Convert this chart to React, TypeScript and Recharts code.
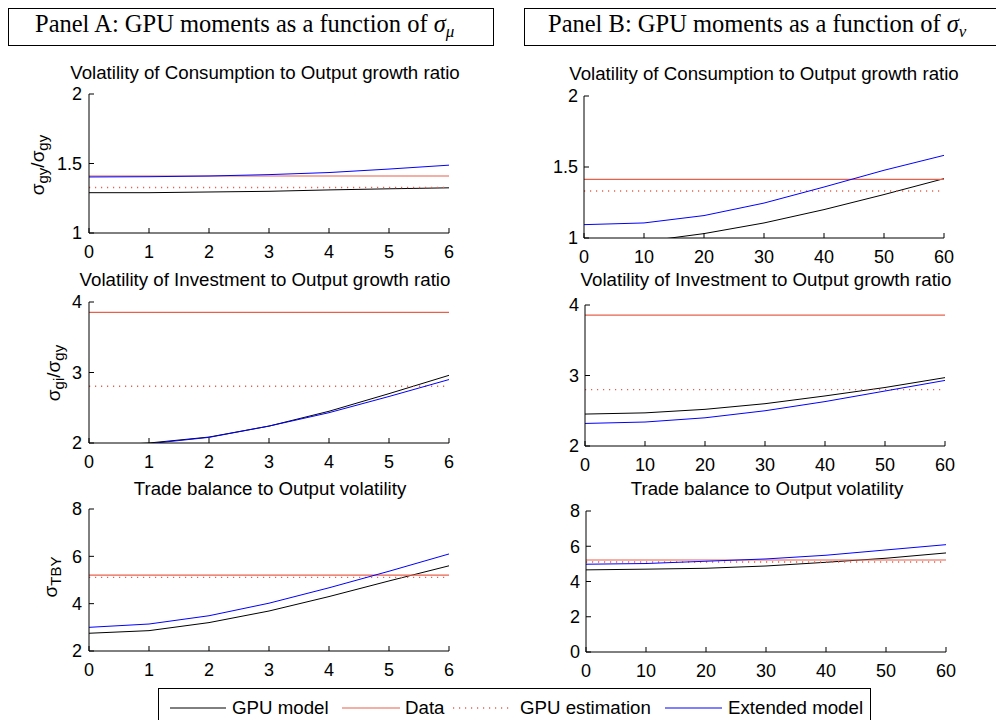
import React from 'react';
import { LineChart, Line, XAxis, YAxis } from 'recharts';

// ---------- data ----------
const sigmaMu = [0, 1, 2, 3, 4, 5, 6];
const sigmaNu = [0, 10, 20, 30, 40, 50, 60];

// Panel A (function of sigma_mu)
const a1Gpu = [1.29, 1.29, 1.295, 1.3, 1.31, 1.318, 1.325];
const a1Ext = [1.403, 1.405, 1.41, 1.42, 1.435, 1.46, 1.488];
const a1Data = 1.41;
const a1Est = 1.327;

const a2Gpu = [1.95, 2.0, 2.084, 2.24, 2.45, 2.7, 2.96];
const a2Ext = [1.94, 1.99, 2.08, 2.24, 2.43, 2.66, 2.9];
const a2Data = 3.853;
const a2Est = 2.805;

const a3Gpu = [2.75, 2.86, 3.2, 3.69, 4.3, 4.96, 5.6];
const a3Ext = [3.0, 3.14, 3.49, 4.02, 4.67, 5.37, 6.1];
const a3Data = 5.21;
const a3Est = 5.11;

// Panel B (function of sigma_nu)
const b1Gpu = [0.95, 0.975, 1.031, 1.106, 1.2, 1.306, 1.418];
const b1Ext = [1.094, 1.106, 1.158, 1.246, 1.359, 1.477, 1.582];
const b1Data = 1.413;
const b1Est = 1.331;

const b2Gpu = [2.453, 2.47, 2.52, 2.6, 2.71, 2.83, 2.97];
const b2Ext = [2.32, 2.34, 2.4, 2.5, 2.63, 2.78, 2.93];
const b2Data = 3.857;
const b2Est = 2.8;

const b3Gpu = [4.66, 4.7, 4.75, 4.88, 5.09, 5.32, 5.62];
const b3Ext = [4.98, 5.02, 5.15, 5.28, 5.49, 5.79, 6.09];
const b3Data = 5.22;
const b3Est = 5.11;

// tick labels
const ticksMu = [0, 1, 2, 3, 4, 5, 6];
const ticksNu = [0, 10, 20, 30, 40, 50, 60];
const ticksRow1 = [1, 1.5, 2];
const ticksRow2 = [2, 3, 4];
const ticksA3 = [2, 4, 6, 8];
const ticksB3 = [0, 2, 4, 6, 8];

const titles = [
  'Volatility of Consumption to Output growth ratio',
  'Volatility of Investment to Output growth ratio',
  'Trade balance to Output volatility',
];
const legendLabels = ['GPU model', 'Data', 'GPU estimation', 'Extended model'];

// ---------- styles ----------
const RED = '#e8604c';
const BLUE = '#0000ff';
const BLACK = '#000000';
const SANS = '"Liberation Sans", Arial, Helvetica, sans-serif';
const SERIF = '"Liberation Serif", "Times New Roman", serif';

type PanelProps = {
  xs: number[];
  gpu: number[];
  ext: number[];
  dataLevel: number;
  estLevel: number;
  xTicks: number[];
  yTicks: number[];
  left: number;
  top: number;
  w: number;
  h: number;
  yTickMargin: number;
};

const YW = 80;
const MT = 14;
const MR = 20;

function Panel(p: PanelProps) {
  const rows = p.xs.map((x, i) => ({ x, gpu: p.gpu[i], ext: p.ext[i], data: p.dataLevel, est: p.estLevel }));
  const xDomain = [p.xTicks[0], p.xTicks[p.xTicks.length - 1]];
  const yDomain = [p.yTicks[0], p.yTicks[p.yTicks.length - 1]];
  const tickStyle = { fill: '#000', fontSize: 18, fontFamily: SANS };
  return (
    <div style={{ position: 'absolute', left: p.left - YW, top: p.top - MT, fontFamily: SANS }}>
      <LineChart width={YW + p.w + MR} height={MT + p.h + 34} data={rows} margin={{ top: MT, right: MR, bottom: 0, left: 0 }}>
        <XAxis xAxisId="b" dataKey="x" type="number" domain={xDomain} ticks={p.xTicks} interval={0}
          tickSize={-5} tickMargin={17} height={34} stroke={BLACK} tick={tickStyle} allowDataOverflow />
        <XAxis xAxisId="t" orientation="top" dataKey="x" type="number" domain={xDomain} ticks={p.xTicks} interval={0}
          tickSize={-5} height={0} stroke={BLACK} tick={false} allowDataOverflow />
        <YAxis yAxisId="l" type="number" domain={yDomain} ticks={p.yTicks} interval={0}
          tickSize={-5} tickMargin={p.yTickMargin} width={YW} stroke={BLACK} tick={tickStyle} allowDataOverflow />
        <YAxis yAxisId="r" orientation="right" type="number" domain={yDomain} ticks={p.yTicks} interval={0}
          tickSize={-5} width={0} stroke={BLACK} tick={false} allowDataOverflow />
        <Line xAxisId="b" yAxisId="l" type="linear" dataKey="gpu" stroke={BLACK} strokeWidth={1} dot={false} isAnimationActive={false} />
        <Line xAxisId="t" yAxisId="r" type="linear" dataKey="data" stroke={RED} strokeWidth={1.2} dot={false} isAnimationActive={false} />
        <Line xAxisId="t" yAxisId="r" type="linear" dataKey="est" stroke={RED} strokeWidth={1.4} strokeDasharray="1.2 4.8" dot={false} isAnimationActive={false} />
        <Line xAxisId="b" yAxisId="l" type="linear" dataKey="ext" stroke={BLUE} strokeWidth={1} dot={false} isAnimationActive={false} />
      </LineChart>
    </div>
  );
}

function SigmaLabel({ x, y, parts }: { x: number; y: number; parts: { base: string; sub: string }[] }) {
  return (
    <text transform={`rotate(-90 ${x} ${y})`} x={x} y={y} textAnchor="middle" fontFamily={SANS} fontSize={19} fill="#000" dominantBaseline="central">
      {parts.map((pt, i) => (
        <React.Fragment key={i}>
          <tspan dy={i === 0 ? 0 : -5}>{pt.base}</tspan>
          <tspan dy={5} fontSize={15}>{pt.sub}</tspan>
        </React.Fragment>
      ))}
    </text>
  );
}

export default function App() {
  return (
    <div style={{ position: 'absolute', left: 0, top: 0, width: 996, height: 720, background: '#fff', overflow: 'hidden' }}>
      <Panel xs={sigmaMu} gpu={a1Gpu} ext={a1Ext} dataLevel={a1Data} estLevel={a1Est} xTicks={ticksMu} yTicks={ticksRow1}
        left={89} top={94} w={360} h={139} yTickMargin={12} />
      <Panel xs={sigmaMu} gpu={a2Gpu} ext={a2Ext} dataLevel={a2Data} estLevel={a2Est} xTicks={ticksMu} yTicks={ticksRow2}
        left={89} top={302} w={360} h={141} yTickMargin={12} />
      <Panel xs={sigmaMu} gpu={a3Gpu} ext={a3Ext} dataLevel={a3Data} estLevel={a3Est} xTicks={ticksMu} yTicks={ticksA3}
        left={89} top={509} w={360} h={142} yTickMargin={12} />
      <Panel xs={sigmaNu} gpu={b1Gpu} ext={b1Ext} dataLevel={b1Data} estLevel={b1Est} xTicks={ticksNu} yTicks={ticksRow1}
        left={584} top={96} w={360} h={142} yTickMargin={11} />
      <Panel xs={sigmaNu} gpu={b2Gpu} ext={b2Ext} dataLevel={b2Data} estLevel={b2Est} xTicks={ticksNu} yTicks={ticksRow2}
        left={585} top={305} w={360} h={141} yTickMargin={11} />
      <Panel xs={sigmaNu} gpu={b3Gpu} ext={b3Ext} dataLevel={b3Data} estLevel={b3Est} xTicks={ticksNu} yTicks={ticksB3}
        left={586} top={511} w={360} h={141} yTickMargin={11} />

      <svg width={996} height={720} style={{ position: 'absolute', left: 0, top: 0, pointerEvents: 'none' }}>
        {/* header boxes */}
        <rect x={8.5} y={8.5} width={485} height={37} fill="none" stroke="#000" strokeWidth={1} />
        <text x={35} y={32} fontFamily={SERIF} fontSize={24.5} fill="#000">
          Panel A: GPU moments as a function of <tspan fontStyle="italic">σ</tspan>
          <tspan fontStyle="italic" fontSize={17} dy={5}>μ</tspan>
        </text>
        <rect x={524.5} y={8.5} width={490} height={37} fill="none" stroke="#000" strokeWidth={1} />
        <text x={548} y={32} fontFamily={SERIF} fontSize={24.5} fill="#000">
          Panel B: GPU moments as a function of <tspan fontStyle="italic">σ</tspan>
          <tspan fontStyle="italic" fontSize={17} dy={5}>ν</tspan>
        </text>

        {/* subplot titles */}
        <g fontFamily={SANS} fontSize={18.7} fill="#000" textAnchor="middle">
          <text x={265} y={79}>{titles[0]}</text>
          <text x={764} y={80}>{titles[0]}</text>
          <text x={265} y={286}>{titles[1]}</text>
          <text x={766} y={286}>{titles[1]}</text>
          <text x={270} y={495}>{titles[2]}</text>
          <text x={767} y={495}>{titles[2]}</text>
        </g>

        {/* y labels */}
        <SigmaLabel x={37} y={165} parts={[{ base: 'σ', sub: 'gy' }, { base: '/σ', sub: 'gy' }]} />
        <SigmaLabel x={53} y={373} parts={[{ base: 'σ', sub: 'gi' }, { base: '/σ', sub: 'gy' }]} />
        <SigmaLabel x={50} y={577} parts={[{ base: 'σ', sub: 'TBY' }]} />

        {/* legend */}
        <rect x={158.5} y={688.5} width={712} height={40} fill="#fff" stroke="#000" strokeWidth={1} />
        <g fontFamily={SANS} fontSize={18.7} fill="#000">
          <line x1={170} y1={708} x2={226} y2={708} stroke={BLACK} strokeWidth={1} />
          <text x={232} y={714}>{legendLabels[0]}</text>
          <line x1={342} y1={708} x2={400} y2={708} stroke={RED} strokeWidth={1.2} />
          <text x={405} y={714}>{legendLabels[1]}</text>
          <line x1={453} y1={708} x2={512} y2={708} stroke={RED} strokeWidth={1.4} strokeDasharray="1.2 4.8" />
          <text x={520} y={714}>{legendLabels[2]}</text>
          <line x1={665} y1={708} x2={722} y2={708} stroke={BLUE} strokeWidth={1} />
          <text x={728} y={714}>{legendLabels[3]}</text>
        </g>
      </svg>
    </div>
  );
}
